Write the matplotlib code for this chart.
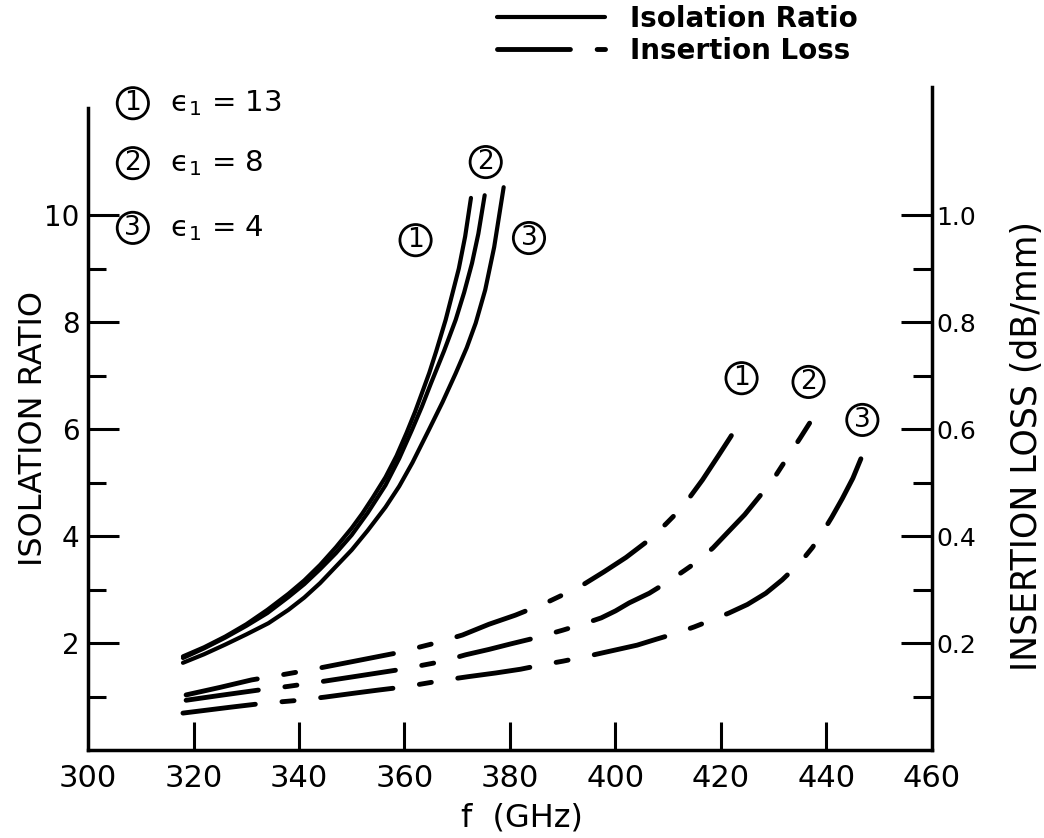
import numpy as np
import matplotlib.pyplot as plt

# isolation ratio (left axis), solid curves, one per eps_1
f_iso1 = [318, 322, 326, 330, 334, 338, 341, 344, 347, 350, 352, 354, 356.4, 358.5,
          360.4, 362, 363.3, 364.7, 366, 367.8, 369, 370.3, 371.5, 372.6]
iso1 = [1.75, 1.92, 2.12, 2.35, 2.62, 2.92, 3.17, 3.46, 3.79, 4.15, 4.42, 4.72, 5.1, 5.5,
        5.93, 6.32, 6.67, 7.05, 7.45, 8.04, 8.5, 9.0, 9.6, 10.32]
f_iso2 = [318, 322, 326, 330, 334, 338, 341, 344, 347, 350, 353, 356.4, 359, 361.4,
          363.3, 365, 367.5, 369.7, 371.3, 372.8, 374, 375.2]
iso2 = [1.72, 1.9, 2.1, 2.32, 2.56, 2.86, 3.1, 3.38, 3.68, 4.02, 4.43, 4.95, 5.45, 5.98,
        6.42, 6.85, 7.46, 8.04, 8.55, 9.1, 9.65, 10.37]
f_iso3 = [318, 322, 326, 330, 334.2, 338, 341, 344, 346.9, 350, 353, 356.4, 359, 361.5,
          364.6, 367.2, 369.7, 371.8, 373.5, 375.3, 377, 378.8]
iso3 = [1.63, 1.79, 1.97, 2.16, 2.37, 2.62, 2.85, 3.12, 3.42, 3.74, 4.1, 4.54, 4.93, 5.37,
        5.98, 6.5, 7.04, 7.52, 7.98, 8.6, 9.4, 10.52]

# insertion loss in dB/mm (right axis), dashed curves
f_il1 = [318.6, 325, 331, 337, 342.2, 350, 358.3, 365.9, 371, 376, 381, 386.8, 390,
         393.7, 397.8, 402, 406.4, 409.5, 412.7, 416.5, 419.5, 421.8, 423.9]
il1 = [0.103, 0.117, 0.131, 0.141, 0.150, 0.165, 0.181, 0.200, 0.215, 0.235, 0.252, 0.275, 0.290,
       0.308, 0.333, 0.360, 0.393, 0.422, 0.454, 0.505, 0.550, 0.585, 0.619]
f_il2 = [318.6, 325, 332.3, 338, 343.7, 351, 358.9, 366.9, 371.6, 376, 380, 385, 390, 394,
         397.3, 400, 402.6, 406.4, 410, 413, 415.9, 418.5, 421.2, 424.5, 427.8, 430.5, 433,
         435, 436.8]
il2 = [0.093, 0.102, 0.112, 0.119, 0.127, 0.138, 0.150, 0.165, 0.178, 0.188, 0.198, 0.210, 0.224, 0.236,
       0.247, 0.260, 0.275, 0.293, 0.315, 0.335, 0.355, 0.378, 0.406, 0.440, 0.480, 0.515, 0.553,
       0.583, 0.611]
f_il3 = [318, 327, 333, 340, 345, 350.3, 355, 360, 367.8, 372, 377.3, 382, 386, 390, 395,
         400, 404.1, 407.7, 411.1, 414.9, 418, 421.5, 425, 428.5, 431.6, 433.5, 435.4, 437.3,
         439.2, 441, 443, 445, 446.8]
il3 = [0.069, 0.080, 0.087, 0.093, 0.099, 0.106, 0.112, 0.118, 0.131, 0.137, 0.144, 0.151, 0.159, 0.166, 0.176,
       0.187, 0.196, 0.207, 0.217, 0.230, 0.242, 0.256, 0.272, 0.293, 0.318, 0.336, 0.355, 0.378,
       0.406, 0.435, 0.470, 0.508, 0.551]

eps_values = ['13', '8', '4']
curve_ids = ['1', '2', '3']

plt.rcParams['font.family'] = 'DejaVu Sans'

fig = plt.figure(figsize=(10.44, 8.38), dpi=100)
ax = fig.add_axes([0.0843, 0.105, 0.8084, 0.798])
ax2 = ax.twinx()

dash = (0, (15, 5.5, 2.5, 5.5))
for fx, vy in [(f_iso1, iso1), (f_iso2, iso2), (f_iso3, iso3)]:
    l_solid, = ax.plot(fx, vy, color='black', lw=3, solid_capstyle='round')
for fx, vy in [(f_il1, il1), (f_il2, il2), (f_il3, il3)]:
    l_dash, = ax2.plot(fx, vy, color='black', lw=3.5, linestyle=dash,
                       dash_capstyle='round')

# axes limits and ticks
ax.set_xlim(300, 460)
ax.set_xticks(np.arange(300, 461, 20))
ax.tick_params(axis='x', direction='in', length=20, width=2.2, labelsize=22, pad=10)
ticks = ax.xaxis.get_major_ticks()
ticks[0].tick1line.set_visible(False)
ticks[-1].tick1line.set_visible(False)

ax.set_ylim(0, 12.5)
ax.set_yticks([2, 4, 6, 8, 10])
ax.set_yticks([1, 3, 5, 7, 9], minor=True)
ax.tick_params(axis='y', which='major', direction='in', length=22, width=2.2, labelsize=20, pad=6)
ax.tick_params(axis='y', which='minor', direction='in', length=13, width=2.2)

ax2.set_ylim(0, 1.25)
ax2.set_yticks([0.2, 0.4, 0.6, 0.8, 1.0])
ax2.set_yticklabels(['0.2', '0.4', '0.6', '0.8', '1.0'])
ax2.set_yticks([0.1, 0.3, 0.5, 0.7, 0.9], minor=True)
ax2.tick_params(axis='y', which='major', direction='in', length=22, width=2.2, labelsize=18, pad=3)
ax2.tick_params(axis='y', which='minor', direction='in', length=14, width=2.2)

for s in ['top', 'right']:
    ax.spines[s].set_visible(False)
for s in ['top', 'left', 'bottom']:
    ax2.spines[s].set_visible(False)
ax.spines['left'].set_bounds(0, 12)
ax2.spines['right'].set_bounds(0, 1.24)
ax.spines['left'].set_linewidth(2.5)
ax.spines['bottom'].set_linewidth(2.5)
ax2.spines['right'].set_linewidth(2.5)

# axis labels
ax.set_xlabel('f  (GHz)', fontsize=23, va='center')
ax.xaxis.set_label_coords(0.514, -0.102)
ax.set_ylabel('ISOLATION RATIO', fontsize=23, va='center')
ax.yaxis.set_label_coords(-0.065, 0.481)
ax2.set_ylabel('INSERTION LOSS (dB/mm)', fontsize=25, va='center')
ax2.yaxis.set_label_coords(1.112, 0.455)


def circled(x, y, s):
    ax.text(x, y, s, ha='center', va='center', fontsize=19,
            bbox=dict(boxstyle='circle,pad=0.1', fc='none', ec='black', lw=2))


# key for eps_1 in upper left
key_y = [12.09, 10.97, 9.76]
for cid, ev, yy in zip(curve_ids, eps_values, key_y):
    circled(308.5, yy, cid)
    ax.text(315.6, yy, '\u03f5$_1$ = ' + ev, ha='left', va='center', fontsize=21)

# curve labels
for cid, (xx, yy) in zip(curve_ids, [(362.1, 9.53), (375.4, 10.99), (383.6, 9.57)]):
    circled(xx, yy, cid)
for cid, (xx, yy) in zip(curve_ids, [(423.9, 6.95), (436.6, 6.88), (446.8, 6.17)]):
    circled(xx, yy, cid)

fig.legend(handles=[l_solid, l_dash], labels=['Isolation Ratio', 'Insertion Loss'],
           loc='upper left', bbox_to_anchor=(497 / 1044, 1 - 5 / 838),
           frameon=False, prop={'size': 20, 'weight': 'bold'},
           handlelength=3.9, handletextpad=0.9, labelspacing=0.15,
           borderpad=0, borderaxespad=0)

fig.savefig('out.png', dpi=100)
